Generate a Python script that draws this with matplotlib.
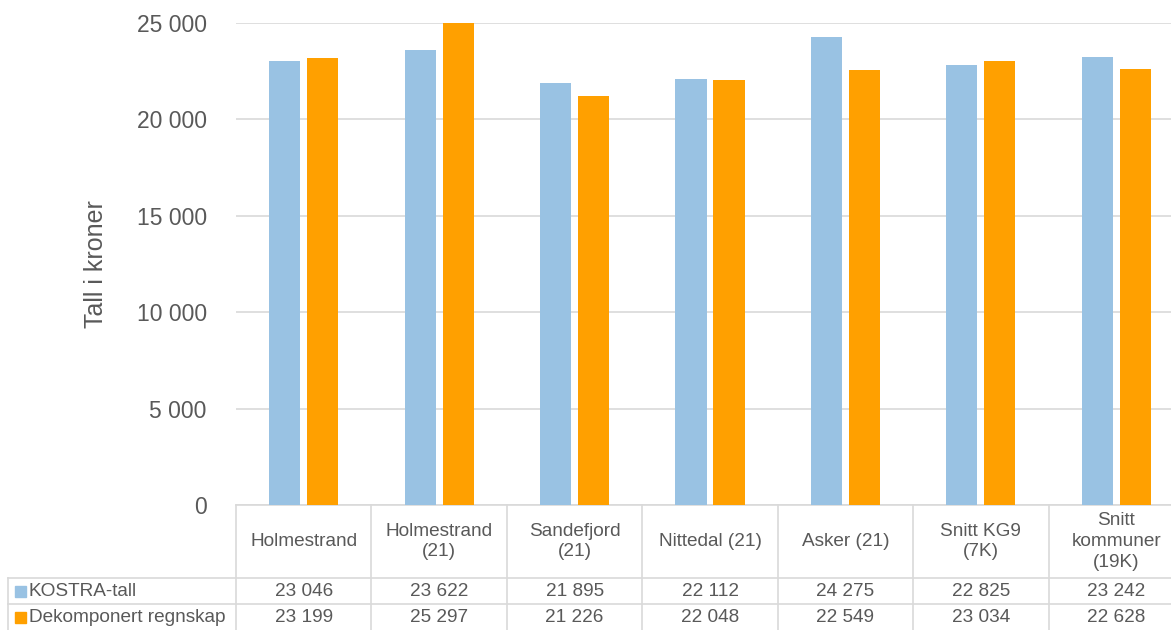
import matplotlib.pyplot as plt
import matplotlib.transforms as mtransforms
from matplotlib.lines import Line2D
from matplotlib.patches import Rectangle
import numpy as np

plt.rcParams['font.family'] = ['Liberation Sans', 'DejaVu Sans']

TEXT_COLOR = '#595959'
GRID_COLOR = '#D9D9D9'
BLUE = '#99C2E3'
ORANGE = '#FFA000'

categories = ['Holmestrand', 'Holmestrand\n(21)', 'Sandefjord\n(21)', 'Nittedal (21)',
              'Asker (21)', 'Snitt KG9\n(7K)', 'Snitt\nkommuner\n(19K)']
series_names = ['KOSTRA-tall', 'Dekomponert regnskap']
kostra = [23046, 23622, 21895, 22112, 24275, 22825, 23242]
dekomp = [23199, 25297, 21226, 22048, 22549, 23034, 22628]
yticks = [0, 5000, 10000, 15000, 20000, 25000]


def fmt(v):
    return '{:,}'.format(v).replace(',', ' ')


W, H = 1171, 630
fig = plt.figure(figsize=(W / 100, H / 100), dpi=100)
# axes runs a bit past the right edge, like the cropped original
left_px, right_px, top_px, bottom_px = 236, 1184, 23, 505
ax = fig.add_axes([left_px / W, 1 - bottom_px / H,
                   (right_px - left_px) / W, (bottom_px - top_px) / H])

x = np.arange(len(categories))
bar_w = 0.23
off = 0.14
ax.bar(x - off, kostra, bar_w, color=BLUE, zorder=3)
ax.bar(x + off, dekomp, bar_w, color=ORANGE, zorder=3)

ax.set_xlim(-0.5, len(categories) - 0.5)
ax.set_ylim(0, 25000)
ax.set_yticks(yticks)
ax.set_yticklabels([fmt(v) for v in yticks])
ax.tick_params(axis='y', length=0, pad=21, labelsize=16.5, labelcolor=TEXT_COLOR)
ax.set_xticks([])
ax.grid(axis='y', color=GRID_COLOR, linewidth=1.2, zorder=0)
for s in ['top', 'right', 'left']:
    ax.spines[s].set_visible(False)
ax.spines['bottom'].set_color(GRID_COLOR)
ax.spines['bottom'].set_linewidth(1.2)
ax.set_ylabel('Tall i kroner', fontsize=18, color=TEXT_COLOR, labelpad=21)

# data table under the plot
ax_h = bottom_px - top_px
ax_w = right_px - left_px


def ay(py):
    return (bottom_px - py) / ax_h


def axx(px):
    return (px - left_px) / ax_w


trans = mtransforms.blended_transform_factory(ax.transData, ax.transAxes)
y_head_bot = ay(578)
y_row1_bot = ay(604)
y_row2_bot = ay(631)

line_kw = dict(color=GRID_COLOR, linewidth=1.2, clip_on=False)
for b in np.arange(len(categories) + 1) - 0.5:
    ax.add_line(Line2D([b, b], [0, y_row2_bot], transform=trans, **line_kw))
for yy in [y_head_bot, y_row1_bot]:
    ax.add_line(Line2D([axx(8), 1], [yy, yy], transform=ax.transAxes, **line_kw))
ax.add_line(Line2D([axx(8), axx(8)], [y_head_bot, y_row2_bot], transform=ax.transAxes, **line_kw))

fs = 13.7
for i, c in enumerate(categories):
    ax.text(i, (0 + y_head_bot) / 2, c, transform=trans, ha='center', va='center',
            fontsize=fs, color=TEXT_COLOR, linespacing=1.3, clip_on=False)
    ax.text(i, (y_head_bot + y_row1_bot) / 2, fmt(kostra[i]), transform=trans,
            ha='center', va='center', fontsize=fs, color=TEXT_COLOR, clip_on=False)
    ax.text(i, (y_row1_bot + y_row2_bot) / 2, fmt(dekomp[i]), transform=trans,
            ha='center', va='center', fontsize=fs, color=TEXT_COLOR, clip_on=False)

sq = 11
for name, col, (ytop, ybot) in zip(series_names, [BLUE, ORANGE],
                                   [(y_head_bot, y_row1_bot), (y_row1_bot, y_row2_bot)]):
    yc = (ytop + ybot) / 2
    ax.add_patch(Rectangle((axx(15), yc - sq / 2 / ax_h), sq / ax_w, sq / ax_h,
                           transform=ax.transAxes, color=col, clip_on=False))
    ax.text(axx(29), yc, name, transform=ax.transAxes, ha='left', va='center',
            fontsize=fs, color=TEXT_COLOR, clip_on=False)

fig.savefig('out.png', dpi=100)
